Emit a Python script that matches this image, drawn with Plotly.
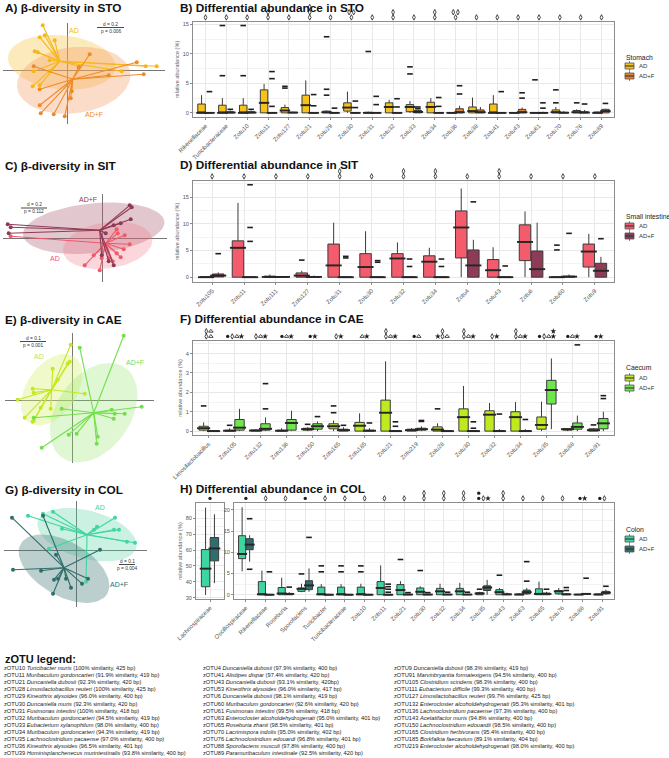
import math
import plotly.graph_objects as go

W, H = 669, 758
FONT = "Liberation Sans, Arial, Helvetica, sans-serif"

# ======================= DATA =======================
groups = ["AD", "AD+F"]

# ---- PCoA scores (PCo1, PCo2) ----
sto_ad_x = [-0.25, -0.28, -0.23, -0.13, -0.33, -0.30, -0.18, -0.34, -0.18, -0.35, -0.28, 0.89, 0.78, 0.54, 0.12]
sto_ad_y = [0.45, 0.33, 0.35, 0.30, 0.19, 0.18, 0.10, -0.01, -0.01, -0.16, -0.15, 0.04, 0.04, -0.01, 0.04]
sto_adf_x = [0.22, 0.11, 0.69, 0.76, 0.41, 0.03, -0.28, -0.27, -0.14, -0.03, -0.34, -0.28, 0.04]
sto_adf_y = [0.16, 0.03, 0.08, -0.04, -0.05, -0.28, -0.35, -0.43, -0.44, -0.46, 0.04, -0.19, -0.21]
sto_cent_x = [-0.08, 0.05]
sto_cent_y = [0.09, -0.09]
sto_ell = [(-0.06, 0.08, 0.54, 0.27, -6), (0.06, -0.10, 0.57, 0.33, 7.5)]
sto_stats = ["d = 0.2", "p = 0.006"]

sit_ad_x = [-0.92, 0.22, 0.27, 0.21, 0.14, 0.15, -0.03, -0.18, 0.06, 0.18, 0.14, 0.10, -0.01, -0.09]
sit_ad_y = [0.02, 0.03, -0.06, -0.11, 0.09, 0.05, -0.32, -0.27, -0.20, -0.19, -0.15, -0.23, -0.20, -0.17]
sit_adf_x = [-0.95, -0.92, -0.94, 0.27, 0.29, 0.28, 0.18, 0.11, 0.03, 0.06, 0.11, -0.01]
sit_adf_y = [0.14, 0.11, 0.05, 0.33, 0.31, 0.19, 0.15, 0.13, 0.05, -0.23, -0.27, -0.17]
sit_cent_x = [0.03, -0.03]
sit_cent_y = [-0.05, 0.08]
sit_ell = [(-0.09, 0.10, 0.71, 0.25, 5.4), (0.05, -0.07, 0.45, 0.23, 8.5)]
sit_stats = ["d = 0.2", "p = 0.112"]

cae_ad_x = [-0.02, -0.03, -0.05, -0.20, -0.40, -0.39, -0.55, -0.48, -0.39, -0.40, -0.32, -0.22, 0.12, -0.15]
cae_ad_y = [0.56, 0.39, 0.37, 0.32, 0.12, 0.08, 0.01, -0.17, -0.20, -0.21, -0.07, -0.08, 0.07, 0.21]
cae_adf_x = [0.51, 0.07, -0.11, 0.39, 0.42, 0.52, 0.69, 0.41, 0.25, 0.24, 0.04, -0.04, -0.31, -0.39]
cae_adf_y = [0.65, 0.53, -0.08, -0.09, -0.13, -0.13, -0.06, -0.18, -0.36, -0.43, -0.33, -0.34, -0.47, -0.17]
cae_cent_x = [-0.21, 0.21]
cae_cent_y = [0.11, -0.12]
cae_ell = [(-0.21, 0.11, 0.40, 0.25, 55), (0.21, -0.12, 0.55, 0.37, 55)]
cae_stats = ["d = 0.1", "p = 0.001"]

col_ad_x = [-0.48, -0.33, -0.23, -0.14, 0.21, 0.18, 0.39, 0.38, 0.43, 0.51, 0.59, -0.27, 0.10]
col_ad_y = [0.35, 0.37, 0.39, 0.22, 0.24, 0.21, 0.33, 0.21, 0.21, 0.09, 0.08, 0.02, -0.31]
col_adf_x = [-0.64, -0.33, -0.63, -0.35, -0.22, -0.18, -0.10, -0.05, -0.23, 0.06, 0.12, 0.24, -0.20]
col_adf_y = [0.33, 0.35, -0.19, -0.20, -0.29, -0.28, -0.28, -0.37, -0.43, -0.33, -0.28, 0.01, -0.04]
col_cent_x = [0.11, -0.12]
col_cent_y = [0.16, -0.17]
col_ell = [(0.11, 0.16, 0.51, 0.24, -15), (-0.12, -0.18, 0.50, 0.27, -30)]
col_stats = ["d = 0.1", "p = 0.004"]

# ---- Differential abundance (box statistics, relative abundance %) ----
sto_cats = ["Rikenellaceae", "Turicibacteraceae", "Zotu10", "Zotu11", "Zotu127", "Zotu21", "Zotu29", "Zotu30",
            "Zotu31", "Zotu32", "Zotu33", "Zotu34", "Zotu36", "Zotu38", "Zotu41", "Zotu43", "Zotu61", "Zotu70",
            "Zotu76", "Zotu89"]
sto_ad_q1 = [0, 0, 0, 0, 0, 0, 0, 0.3, 0, 0, 0.2, 0, 0, 0, 0, 0, 0, 0, 0, 0]
sto_ad_med = [0, 0, 0, 1.7, 0.4, 1.3, 0.1, 0.9, 0, 1.0, 1.0, 1.0, 0, 0.3, 0, 0, 0, 0.1, 0.1, 0]
sto_ad_q3 = [1.5, 1.3, 1.3, 3.9, 0.9, 3.0, 0.3, 1.7, 0.1, 1.7, 1.4, 1.8, 0.05, 1.0, 1.5, 0.05, 0.05, 0.5, 0.4, 0.15]
sto_ad_lo = [0, 0, 0, 0, 0, 0, 0, 0, 0, 0, 0, 0, 0, 0, 0, 0, 0, 0, 0, 0]
sto_ad_hi = [3.0, 2.5, 2.5, 4.9, 1.4, 5.5, 0.4, 3.6, 0.2, 2.2, 2.0, 2.5, 0.1, 2.6, 3.0, 0.1, 0.1, 1.0, 0.6, 0.2]
sto_ad_out = [[], [6.3, 14.8], [6.3, 14.8], [], [4.2, 4.5], [], [3.0, 4.0, 12.9], [], [10.4], [], [6.6, 7.8],
              [], [], [], [], [], [5.6], [1.7, 3.9], [1.7], []]
sto_adf_q1 = [0, 0, 0, 0, 0, 0, 0, 0, 0, 0, 0, 0, 0, 0, 0, 0, 0, 0, 0, 0]
sto_adf_med = [0, 0.05, 0.05, 0, 0.05, 0, 0, 0, 0, 0, 0.15, 0, 0.1, 0.1, 0, 0.1, 0, 0.02, 0.05, 0.3]
sto_adf_q3 = [0.05, 0.2, 0.2, 0.05, 0.1, 0.05, 0.05, 0.05, 0.05, 0.05, 0.4, 0.05, 0.7, 0.5, 0.05, 0.6, 0.05, 0.1, 0.2, 0.6]
sto_adf_lo = [0, 0, 0, 0, 0, 0, 0, 0, 0, 0, 0, 0, 0, 0, 0, 0, 0, 0, 0, 0]
sto_adf_hi = [0.1, 0.4, 0.4, 0.1, 0.2, 0.1, 0.1, 0.1, 0.1, 0.1, 0.5, 0.1, 1.2, 1.0, 0.1, 0.9, 0.2, 0.3, 0.5, 0.7]
sto_adf_out = [[3.6], [0.6], [0.6], [1.1, 5.8, 7.0], [], [1.2, 3.1], [0.8], [0.9, 2.0], [1.4, 2.8], [1.0, 2.4],
               [0.7, 1.0], [1.1, 2.6], [3.2, 4.6], [], [3.6], [2.5, 3.4], [0.8, 1.7], [], [1.5], [1.6]]
# significance symbols: rows top -> bottom separated by "|", "." = empty slot
sto_sig = ["◊", "◊", "◊", "◊|◊", "◊", "◊|◊|◊", "◊", "◊◊|◊", "◊", "◊|◊",
           "◊", "◊|◊", "◊◊|◊", "◊", "◊", "◊", "◊", "◊", "◊", "◊"]

sit_cats = ["Zotu105", "Zotu11", "Zotu111", "Zotu127", "Zotu31", "Zotu30", "Zotu32", "Zotu34", "Zotu4",
            "Zotu43", "Zotu6", "Zotu60", "Zotu9"]
sit_ad_q1 = [0, 0, 0, 0, 0, 0, 0, 0, 3.6, 0, 3.1, 0, 1.9]
sit_ad_med = [0, 5.5, 0.05, 0.3, 2.2, 1.9, 3.5, 2.9, 9.3, 1.3, 6.6, 0, 4.8]
sit_ad_q3 = [0.1, 6.8, 0.2, 0.8, 6.2, 4.4, 4.4, 4.0, 12.4, 3.3, 9.8, 0.05, 6.2]
sit_ad_lo = [0, 0, 0, 0, 0, 0, 0, 0, 0, 0, 0, 0, 0]
sit_ad_hi = [0.2, 13.9, 0.5, 1.2, 10.2, 8.6, 6.5, 5.5, 16.6, 5.6, 12.3, 0.1, 8.1]
sit_ad_out = [[], [], [], [3.2], [], [], [], [], [], [], [], [5.1, 6.0], []]
sit_adf_q1 = [0.05, 0, 0, 0, 0, 0, 0, 0, 0, 0, 0, 0, 0]
sit_adf_med = [0.3, 0, 0.05, 0.05, 0, 0, 0, 0, 2.2, 0, 1.5, 0.1, 1.2]
sit_adf_q3 = [0.6, 0.05, 0.1, 0.1, 0.05, 0.05, 0.05, 0.05, 5.1, 0.05, 4.9, 0.2, 2.6]
sit_adf_lo = [0, 0, 0, 0, 0, 0, 0, 0, 0, 0, 0, 0, 0]
sit_adf_hi = [0.9, 0.1, 0.2, 0.3, 0.1, 0.1, 0.1, 0.1, 7.0, 0.1, 10.2, 0.5, 3.8]
sit_adf_out = [[4.4], [6.7, 9.3, 17.3], [], [], [3.6, 3.9], [2.8, 3.1], [2.0, 3.4], [2.0, 3.4], [14.1],
               [2.1], [], [8.2], [7.2]]
sit_sig = ["◊", "◊", "◊", "◊", "◊|◊", "◊", "◊|◊", "◊|◊", "◊", "◊|◊", "◊", "◊", "◊"]

cae_cats = ["Limosilactobacillus", "Zotu105", "Zotu132", "Zotu136", "Zotu150", "Zotu165", "Zotu185", "Zotu21",
            "Zotu219", "Zotu28", "Zotu30", "Zotu32", "Zotu34", "Zotu35", "Zotu88", "Zotu91"]
cae_ad_q1 = [0.05, 0, 0, 0, 0.05, 0.12, 0, 0, 0, 0, 0, 0, 0, 0.1, 0.05, 0]
cae_ad_med = [0.15, 0.02, 0.03, 0.02, 0.1, 0.25, 0.28, 0.95, 0.05, 0.08, 0.72, 0.85, 0.72, 0.32, 0.1, 0.05]
cae_ad_q3 = [0.25, 0.05, 0.06, 0.05, 0.15, 0.38, 0.45, 1.6, 0.1, 0.22, 1.15, 1.05, 1.0, 0.73, 0.12, 0.12]
cae_ad_lo = [0, 0, 0, 0, 0, 0, 0, 0, 0, 0, 0, 0, 0, 0, 0, 0]
cae_ad_hi = [0.45, 0.15, 0.08, 0.15, 0.2, 0.55, 0.92, 3.6, 0.15, 0.4, 2.33, 1.45, 1.5, 1.52, 0.15, 0.15]
cae_ad_out = [[1.3], [0.3], [], [], [0.35], [0.95, 1.3], [], [], [], [1.15], [], [], [], [], [], [0.32]]
cae_adf_q1 = [0, 0.05, 0.05, 0.05, 0.1, 0, 0, 0, 0.05, 0, 0, 0, 0, 1.4, 0.1, 0.12]
cae_adf_med = [0, 0.18, 0.12, 0.42, 0.25, 0.05, 0.02, 0, 0.1, 0, 0, 0, 0, 2.12, 0.22, 0.4]
cae_adf_q3 = [0.02, 0.6, 0.38, 0.6, 0.38, 0.1, 0.05, 0.03, 0.15, 0.02, 0.03, 0.03, 0.03, 2.62, 0.42, 0.65]
cae_adf_lo = [0, 0, 0, 0, 0, 0, 0, 0, 0, 0, 0, 0, 0, 0.1, 0, 0]
cae_adf_hi = [0.03, 1.15, 0.7, 1.05, 0.5, 0.2, 0.15, 0.05, 0.25, 0.03, 0.05, 0.1, 0.1, 3.75, 0.8, 1.0]
cae_adf_out = [[], [], [1.15, 2.45], [], [0.75], [0.3], [0.42], [0.25, 0.48], [0.5, 0.55], [], [0.15, 0.48],
               [0.88], [0.6], [], [4.45], [1.68, 1.83]]
cae_sig = ["◊Δ|◊Δ", "●◊Δ★", "◊Δ★", "●Δ★", "●★", "◊★", "Δ★", "◊..|◊Δ★", "●Δ", ".◊.|★◊Δ",
           "◊..|◊Δ★", "◊★", "◊..|◊Δ★", "...★|●◊Δ★", "●Δ★", "●★"]

lach_cats = ["Lachnospiraceae"]
lach_ad_q1, lach_ad_med, lach_ad_q3, lach_ad_lo, lach_ad_hi, lach_ad_out = [36.9], [48.3], [60.3], [31.7], [86.7], [[]]
lach_adf_q1, lach_adf_med, lach_adf_q3, lach_adf_lo, lach_adf_hi, lach_adf_out = [53.2], [61.0], [67.9], [39.2], [82.5], [[]]
lach_sig = ["●"]

col_cats = ["Oscillospiraceae", "Rikenellaceae", "Roseburia", "Sporofaciens", "Turicibacter", "Turicibacteraceae",
            "Zotu10", "Zotu11", "Zotu21", "Zotu30", "Zotu32", "Zotu34", "Zotu35", "Zotu43", "Zotu63", "Zotu65",
            "Zotu76", "Zotu88", "Zotu91"]
col_ad_q1 = [8.5, 0, 0, 0.8, 0, 0, 0, 0, 0, 0, 0, 0, 0, 0, 0, 0, 0.2, 0, 0]
col_ad_med = [9.6, 0.1, 0.3, 1.4, 0.1, 0.1, 0.1, 1.6, 1.1, 0.7, 0.8, 0.8, 0.3, 0.6, 0.05, 0.2, 0.8, 0.05, 0.05]
col_ad_q3 = [13.9, 3.1, 1.7, 1.6, 1.8, 1.8, 1.8, 3.1, 2.4, 1.6, 1.5, 1.5, 0.5, 1.2, 0.2, 1.4, 1.0, 0.1, 0.2]
col_ad_lo = [5.5, 0, 0, 0.6, 0, 0, 0, 0, 0, 0, 0, 0, 0, 0, 0, 0, 0, 0, 0]
col_ad_hi = [20.6, 5.7, 4.0, 2.6, 2.5, 2.5, 2.6, 6.9, 3.2, 2.0, 2.6, 2.8, 0.7, 1.6, 0.4, 3.1, 1.6, 0.2, 0.3]
col_ad_out = [[], [], [], [4.9], [5.4, 6.8], [5.4, 6.8], [5.4, 6.8], [], [8.3], [5.7], [], [], [1.3], [4.6],
              [], [], [], [], []]
col_adf_q1 = [10.6, 0, 0, 1.2, 0, 0, 0, 0, 0, 0, 0, 0, 1.0, 0, 0.2, 0, 0, 0.1, 0.2]
col_adf_med = [11.8, 0, 0.2, 2.2, 0, 0, 0, 0, 0.05, 0.05, 0.05, 0.05, 1.7, 0.1, 0.6, 0.2, 0.1, 0.2, 0.5]
col_adf_q3 = [13.2, 0.1, 0.3, 3.3, 0.1, 0.1, 0.1, 0.1, 0.1, 0.1, 0.1, 0.1, 2.1, 0.2, 1.1, 0.4, 0.2, 0.3, 0.8]
col_adf_lo = [7.8, 0, 0, 0.7, 0, 0, 0, 0, 0, 0, 0, 0, 0, 0, 0, 0, 0, 0, 0]
col_adf_hi = [14.0, 0.2, 0.6, 6.2, 0.2, 0.2, 0.2, 0.2, 0.2, 0.2, 0.2, 0.2, 3.5, 0.5, 1.6, 0.7, 0.4, 0.4, 1.2]
col_adf_out = [[6.0, 17.9], [5.4], [1.8], [13.5], [], [], [], [0.6, 1.3, 1.9, 2.5], [0.5], [0.5], [0.6], [0.6],
               [], [], [3.2, 7.8], [1.3], [1.0, 1.7], [3.9], [2.0]]
col_sig = ["●", "◊", "◊", "●", "◊", "◊", "◊", "◊", "◊", "◊|◊", "◊|◊", "◊|◊", "●..|●◊★", "◊|◊",
           "◊", "◊", "◊", "●★", "●◊"]

panel_titles = ["A) β-diversity in STO", "B) Differential abundance in STO",
                "C) β-diversity in SIT", "D) Differential abundance in SIT",
                "E) β-diversity in CAE", "F) Differential abundance in CAE",
                "G) β-diversity in COL", "H) Differential abundance in COL"]
legend_titles = ["Stomach", "Small intestine", "Caecum", "Colon"]
ytitle = "relative abundance (%)"

zotu_col1 = [
    ("zOTU10", "Turicibacter muris", "(100% similarity, 425 bp)"),
    ("zOTU11", "Muribaculum gordoncarteri", "(91.9% similarity, 419 bp)"),
    ("zOTU21", "Duncaniella dubosii", "(92.3% similarity, 420 bp)"),
    ("zOTU28", "Limosilactobacillus reuteri", "(100% similarity, 425 bp)"),
    ("zOTU29", "Kineothrix alysoides", "(96.0% similarity, 400 bp)"),
    ("zOTU30", "Duncaniella muris", "(92.3% similarity, 420 bp)"),
    ("zOTU31", "Fusimonas intestini", "(100% similarity, 418 bp)"),
    ("zOTU32", "Muribaculum gordoncarteri", "(94.5% similarity, 419 bp)"),
    ("zOTU33", "Eubacterium xylanophilum", "(98.0% similarity, 400 bp)"),
    ("zOTU34", "Muribaculum gordoncarteri", "(94.3% similarity, 419 bp)"),
    ("zOTU35", "Lachnoclostridium pacaense", "(97.0% similarity, 400 bp)"),
    ("zOTU36", "Kineothrix alysoides", "(96.5% similarity, 401 bp)"),
    ("zOTU39", "Hominisplanchenecus murintestinalis", "(93.8% similarity, 400 bp)"),
]
zotu_col2 = [
    ("zOTU4", "Duncaniella dubosii", "(97.9% similarity, 400 bp)"),
    ("zOTU41", "Alistipes dispar", "(97.4% similarity, 420 bp)"),
    ("zOTU43", "Duncaniella dubosii", "(93.1% similarity, 420bp)"),
    ("zOTU53", "Kineothrix alysoides", "(96.0% similarity, 417 bp)"),
    ("zOTU6", "Duncaniella dubosii", "(98.1% similarity, 419 bp)"),
    ("zOTU60", "Muribaculum gordoncarteri", "(92.6% similarity, 420 bp)"),
    ("zOTU61", "Fusimonas intestini", "(99.5% similarity, 418 bp)"),
    ("zOTU63", "Enterocloster alcoholdehydrogenati", "(95.0% similarity, 401 bp)"),
    ("zOTU65", "Roseburia zhanii", "(98.5% similarity, 401 bp)"),
    ("zOTU70", "Lacrimispora indolis", "(95.0% similarity, 402 bp)"),
    ("zOTU76", "Lachnoclostridium edouardi", "(96.8% similarity, 401 bp)"),
    ("zOTU88", "Sporofaciens musculi", "(97.8% similarity, 400 bp)"),
    ("zOTU89", "Paramuribaculum intestinale", "(92.5% similarity, 420 bp)"),
]
zotu_col3 = [
    ("zOTU9", "Duncaniella dubosii", "(98.3% similarity, 419 bp)"),
    ("zOTU91", "Marvinbryantia formatexigens", "(94.5% similarity, 400 bp)"),
    ("zOTU105", "Clostridium scindens", "(98.3% similarity, 400 bp)"),
    ("zOTU111", "Eubacterium difficile", "(99.3% similarity, 400 bp)"),
    ("zOTU127", "Limosilactobacillus reuteri", "(99.7% similarity, 425 bp)"),
    ("zOTU132", "Enterocloster alcoholdehydrogenati", "(95.3% similarity, 401 bp)"),
    ("zOTU136", "Lachnoclostridium pacaense", "(97.3% similarity, 400 bp)"),
    ("zOTU143", "Acetatifactor muris", "(94.8% similarity, 400 bp)"),
    ("zOTU150", "Lachnoclostridium edouardii", "(98.5% similarity, 400 bp)"),
    ("zOTU165", "Clostridium herbivorans", "(95.4% similarity, 400 bp)"),
    ("zOTU185", "Borkfalkia faecavium", "(89.1% similarity, 404 bp)"),
    ("zOTU219", "Enterocloster alcoholdehydrogenati", "(98.0% similarity, 400 bp)"),
]

# ---- colours ----
sto_pt = ["#F7B716", "#EF8A2B"]; sto_fill = ["rgba(248,200,80,0.38)", "rgba(242,150,90,0.33)"]
sit_pt = ["#F2586A", "#8C3B57"]; sit_fill = ["rgba(170,85,105,0.33)", "rgba(242,120,135,0.30)"]
cae_pt = ["#C3E81E", "#72E04C"]; cae_fill = ["rgba(215,240,120,0.40)", "rgba(150,228,110,0.30)"]
col_pt = ["#3FD6A1", "#2F6D6A"]; col_fill = ["rgba(80,210,160,0.30)", "rgba(60,120,115,0.35)"]
sto_box = ["#F7C21A", "#E8812E"]
sit_box = ["#F45B6C", "#8E3B58"]
cae_box = ["#BFEA1E", "#6EE74C"]
col_box = ["#3DD6A0", "#2E6E6C"]

SIG_MARKERS = {"◊": dict(symbol="diamond-tall-open", size=3.9),
               "●": dict(symbol="circle", size=3.3),
               "Δ": dict(symbol="triangle-up-open", size=3.9),
               "★": dict(symbol="star", size=4.4)}

# ======================= BUILD =======================
fig = go.Figure()
annotations, shapes, axes = [], [], {}


def fx(p):
    return p / W


def fy(p):
    return 1 - p / H


def ref(n, k):
    return k if n == 1 else f"{k}{n}"


def lay(n, k):
    return f"{k}axis" if n == 1 else f"{k}axis{n}"


def text(t, x, y, size, color="#222", xanchor="left", bold=False, yanchor="middle"):
    annotations.append(dict(text=f"<b>{t}</b>" if bold else t, x=fx(x), y=fy(y), xref="paper", yref="paper",
                            xanchor=xanchor, yanchor=yanchor, showarrow=False,
                            font=dict(size=size, color=color, family=FONT)))


def pline(x0, y0, x1, y1, color="#333", width=0.8):
    shapes.append(dict(type="line", xref="paper", yref="paper", x0=fx(x0), y0=fy(y0), x1=fx(x1), y1=fy(y1),
                       line=dict(color=color, width=width)))


def pcoa(n, dom_x, dom_y, origin, pts, cents_x, cents_y, ells, fills, cols, labels_pos, stats, bar):
    ox, oy = origin
    base = dict(showgrid=False, zeroline=True, zerolinecolor="#767676", zerolinewidth=1.4,
                showticklabels=False, ticks="", showline=False, automargin=False)
    axes[lay(n, "x")] = dict(base, domain=[fx(dom_x[0]), fx(dom_x[1])],
                             range=[(dom_x[0] - ox) / 100, (dom_x[1] - ox) / 100], anchor=ref(n, "y"))
    axes[lay(n, "y")] = dict(base, domain=[fy(dom_y[1]), fy(dom_y[0])],
                             range=[(oy - dom_y[1]) / 100, (oy - dom_y[0]) / 100], anchor=ref(n, "x"))
    xa, ya = ref(n, "x"), ref(n, "y")
    for (cx, cy, a, b, ang), fill in zip(ells, fills):
        th = math.radians(ang)
        ts = [2 * math.pi * k / 90 for k in range(91)]
        ex = [cx + a * math.cos(t) * math.cos(th) - b * math.sin(t) * math.sin(th) for t in ts]
        ey = [cy + a * math.cos(t) * math.sin(th) + b * math.sin(t) * math.cos(th) for t in ts]
        fig.add_trace(go.Scatter(x=ex, y=ey, mode="lines", fill="toself", fillcolor=fill, line=dict(width=0),
                                 xaxis=xa, yaxis=ya, hoverinfo="skip", showlegend=False))
    for (gx, gy), cx, cy, col in zip(pts, cents_x, cents_y, cols):
        lx, ly = [], []
        for a, b in zip(gx, gy):
            lx += [cx, a, None]
            ly += [cy, b, None]
        fig.add_trace(go.Scatter(x=lx, y=ly, mode="lines", line=dict(color=col, width=1.1), xaxis=xa, yaxis=ya,
                                 hoverinfo="skip", showlegend=False, cliponaxis=False))
        fig.add_trace(go.Scatter(x=gx, y=gy, mode="markers", marker=dict(color=col, size=4), xaxis=xa, yaxis=ya,
                                 hoverinfo="skip", showlegend=False, cliponaxis=False))
    for g, (lx, ly), col in zip(groups, labels_pos, cols):
        text(g, lx, ly, 7, color=col, xanchor="center")
    bx0, bx1, by = bar
    text(stats[0], (bx0 + bx1) / 2, by - 3.3, 4.8, color="#333", xanchor="center")
    pline(bx0, by, bx1, by, "#333", 0.9)
    text(stats[1], (bx0 + bx1) / 2, by + 3.6, 4.8, color="#333", xanchor="center")


def box_panel(n, cats, stats_pair, fills, dom_x, dom_y, yr, yticks, sig, with_title=True):
    xa, ya = ref(n, "x"), ref(n, "y")
    ncat = len(cats)
    xr = [-0.6, ncat - 0.4]
    ppu = (dom_x[1] - dom_x[0]) / (xr[1] - xr[0])
    bw = 0.36
    step = yticks[1] - yticks[0]
    minor = [v + step / 2 for v in yticks]
    axes[lay(n, "x")] = dict(domain=[fx(dom_x[0]), fx(dom_x[1])], range=xr, anchor=ya, tickmode="array",
                             tickvals=list(range(ncat)), ticktext=cats, tickangle=-45, automargin=False,
                             tickfont=dict(size=6, color="#555", family=FONT), showgrid=True,
                             gridcolor="#e8e8e8", gridwidth=0.7, showline=True, mirror=True, linecolor="#8c8c8c",
                             linewidth=1, ticks="outside", ticklen=2, tickcolor="#8c8c8c", zeroline=False)
    axes[lay(n, "y")] = dict(domain=[fy(dom_y[1]), fy(dom_y[0])], range=yr, anchor=xa, tickmode="array",
                             tickvals=yticks, tickfont=dict(size=5.6, color="#555", family=FONT), showgrid=True,
                             gridcolor="#e8e8e8", gridwidth=0.7, automargin=False,
                             minor=dict(tickvals=minor, showgrid=True, gridcolor="#f3f3f3", gridwidth=0.5, ticks=""),
                             showline=True, mirror=True, linecolor="#8c8c8c", linewidth=1, ticks="outside",
                             ticklen=2, tickcolor="#8c8c8c", zeroline=False,
                             title=dict(text=ytitle if with_title else "", standoff=2,
                                        font=dict(size=5.6, color="#666", family=FONT)))
    for (q1, med, q3, lo, hi, out), off, fill in zip(stats_pair, (-0.19, 0.19), fills):
        xs = [i + off for i in range(ncat)]
        fig.add_trace(go.Box(x=xs, q1=q1, median=med, q3=q3, lowerfence=lo, upperfence=hi, width=bw,
                             fillcolor=fill, line=dict(color="#3b3b3b", width=1), whiskerwidth=0, boxpoints=False,
                             xaxis=xa, yaxis=ya, hoverinfo="skip", showlegend=False))
        fig.add_trace(go.Scatter(x=xs, y=med, mode="markers",
                                 marker=dict(symbol="line-ew", size=bw * ppu, line=dict(width=1.9, color="#262626")),
                                 xaxis=xa, yaxis=ya, hoverinfo="skip", showlegend=False))
        oxs, oys = [], []
        for i, vals in enumerate(out):
            for v in vals:
                oxs.append(i + off)
                oys.append(v)
        if oxs:
            fig.add_trace(go.Scatter(x=oxs, y=oys, mode="markers",
                                     marker=dict(symbol="line-ew", size=4, line=dict(width=1.6, color="#1e1e1e")),
                                     xaxis=xa, yaxis=ya, hoverinfo="skip", showlegend=False, cliponaxis=False))
    # significance symbols on an invisible strip axis above the panel (units: px above the frame)
    m = n + 20
    sxa, sya = ref(m, "x"), ref(m, "y")
    axes[lay(m, "x")] = dict(domain=[fx(dom_x[0]), fx(dom_x[1])], range=xr, anchor=sya, visible=False)
    axes[lay(m, "y")] = dict(domain=[fy(dom_y[0]), fy(dom_y[0] - 20)], range=[0, 20], anchor=sxa, visible=False)
    per = {k: ([], []) for k in SIG_MARKERS}
    for i, s in enumerate(sig):
        rows = s.split("|")[::-1]
        for r, row in enumerate(rows):
            mlen = len(row)
            for j, ch in enumerate(row):
                if ch not in SIG_MARKERS:
                    continue
                per[ch][0].append(i + (j - (mlen - 1) / 2) * 4.6 / ppu)
                per[ch][1].append(4.6 + r * 5.2)
    for ch, (sx, sy) in per.items():
        if not sx:
            continue
        mk = SIG_MARKERS[ch]
        if mk["symbol"].endswith("open"):
            marker = dict(symbol=mk["symbol"], size=mk["size"], color="#1e1e1e", line=dict(width=0.8, color="#1e1e1e"))
        else:
            marker = dict(symbol=mk["symbol"], size=mk["size"], color="#1e1e1e", line=dict(width=0))
        fig.add_trace(go.Scatter(x=sx, y=sy, mode="markers", marker=marker, xaxis=sxa, yaxis=sya,
                                 hoverinfo="skip", showlegend=False, cliponaxis=False))


def legend_block(title, yt, yitems, fills):
    text(title, 624, yt, 6.8, color="#222")
    for g, yi, fill in zip(groups, yitems, fills):
        shapes.append(dict(type="rect", xref="paper", yref="paper", x0=fx(625), x1=fx(634), y0=fy(yi + 3),
                           y1=fy(yi - 3), fillcolor=fill, line=dict(color="#555", width=0.8)))
        pline(625, yi, 634, yi, "#333", 1.1)
        pline(629.5, yi - 3, 629.5, yi - 4.8, "#555", 0.8)
        pline(629.5, yi + 3, 629.5, yi + 4.8, "#555", 0.8)
        text(g, 637, yi, 6.0, color="#333")


# ---- PCoA panels ----
pcoa(1, (3, 165), (23, 124), (67.7, 70.3), [(sto_ad_x, sto_ad_y), (sto_adf_x, sto_adf_y)], sto_cent_x, sto_cent_y,
     sto_ell, sto_fill, sto_pt, [(74, 31), (94, 115)], sto_stats, (97, 124, 27.5))
pcoa(3, (3, 167), (194, 282), (102.7, 238.3), [(sit_ad_x, sit_ad_y), (sit_adf_x, sit_adf_y)], sit_cent_x,
     sit_cent_y, sit_ell, sit_fill, sit_pt, [(55, 258), (88, 200)], sit_stats, (21, 47, 208))
pcoa(5, (5, 154), (333, 463), (72.7, 400.7), [(cae_ad_x, cae_ad_y), (cae_adf_x, cae_adf_y)], cae_cent_x,
     cae_cent_y, cae_ell, cae_fill, cae_pt, [(39, 357), (135, 363)], cae_stats, (20, 46, 341.5))
pcoa(7, (4, 147), (501, 607), (76, 550.7), [(col_ad_x, col_ad_y), (col_adf_x, col_adf_y)], col_cent_x,
     col_cent_y, col_ell, col_fill, col_pt, [(100, 507), (119, 584)], col_stats, (119, 135, 564.5))

# ---- Box panels ----
box_panel(2, sto_cats, [(sto_ad_q1, sto_ad_med, sto_ad_q3, sto_ad_lo, sto_ad_hi, sto_ad_out),
                        (sto_adf_q1, sto_adf_med, sto_adf_q3, sto_adf_lo, sto_adf_hi, sto_adf_out)],
          sto_box, (193, 614), (22, 117), [-0.7, 15.4], [0, 5, 10, 15], sto_sig)
box_panel(4, sit_cats, [(sit_ad_q1, sit_ad_med, sit_ad_q3, sit_ad_lo, sit_ad_hi, sit_ad_out),
                        (sit_adf_q1, sit_adf_med, sit_adf_q3, sit_adf_lo, sit_adf_hi, sit_adf_out)],
          sit_box, (193, 614), (181, 282), [-0.9, 18.0], [0, 5, 10, 15], sit_sig)
box_panel(6, cae_cats, [(cae_ad_q1, cae_ad_med, cae_ad_q3, cae_ad_lo, cae_ad_hi, cae_ad_out),
                        (cae_adf_q1, cae_adf_med, cae_adf_q3, cae_adf_lo, cae_adf_hi, cae_adf_out)],
          cae_box, (193, 614), (341, 435), [-0.2, 4.65], [0, 1, 2, 3, 4], cae_sig)
box_panel(8, lach_cats, [(lach_ad_q1, lach_ad_med, lach_ad_q3, lach_ad_lo, lach_ad_hi, lach_ad_out),
                         (lach_adf_q1, lach_adf_med, lach_adf_q3, lach_adf_lo, lach_adf_hi, lach_adf_out)],
          col_box, (196, 224), (503, 599), [29.2, 89.6], [30, 40, 50, 60, 70, 80], lach_sig)
box_panel(9, col_cats, [(col_ad_q1, col_ad_med, col_ad_q3, col_ad_lo, col_ad_hi, col_ad_out),
                        (col_adf_q1, col_adf_med, col_adf_q3, col_adf_lo, col_adf_hi, col_adf_out)],
          col_box, (234, 614), (503, 599), [-1.0, 21.6], [0, 5, 10, 15, 20], col_sig, with_title=False)

# ---- legends ----
legend_block(legend_titles[0], 57, (66, 76), sto_box)
legend_block(legend_titles[1], 216, (226, 236), sit_box)
legend_block(legend_titles[2], 368, (378, 388), cae_box)
legend_block(legend_titles[3], 529, (539, 549), col_box)

# ---- panel titles ----
for t, (x, y) in zip(panel_titles, [(3, 8), (178, 8), (3, 166), (178, 165), (3, 320), (178, 319), (3, 490), (178, 489)]):
    text(t, x, y, 11.8, color="#111", bold=True)

# ---- zOTU legend ----
text("zOTU legend:", 3, 659, 11, color="#111", bold=True)
for col_items, x0 in ((zotu_col1, 2), (zotu_col2, 201), (zotu_col3, 392)):
    for k, (zid, sp, rest) in enumerate(col_items):
        text(f"{zid} <i>{sp}</i> {rest}", x0, 668 + k * 7.1, 5.7, color="#222")

fig.update_layout(width=W, height=H, margin=dict(l=0, r=0, t=0, b=0, autoexpand=False), paper_bgcolor="white",
                  plot_bgcolor="white", showlegend=False, font=dict(family=FONT),
                  annotations=annotations, shapes=shapes, **axes)
fig.write_html("out.html", config={"displayModeBar": False},
               post_script="document.body.style.margin='0px';document.body.style.padding='0px';"
                           "document.documentElement.style.overflow='hidden';")
